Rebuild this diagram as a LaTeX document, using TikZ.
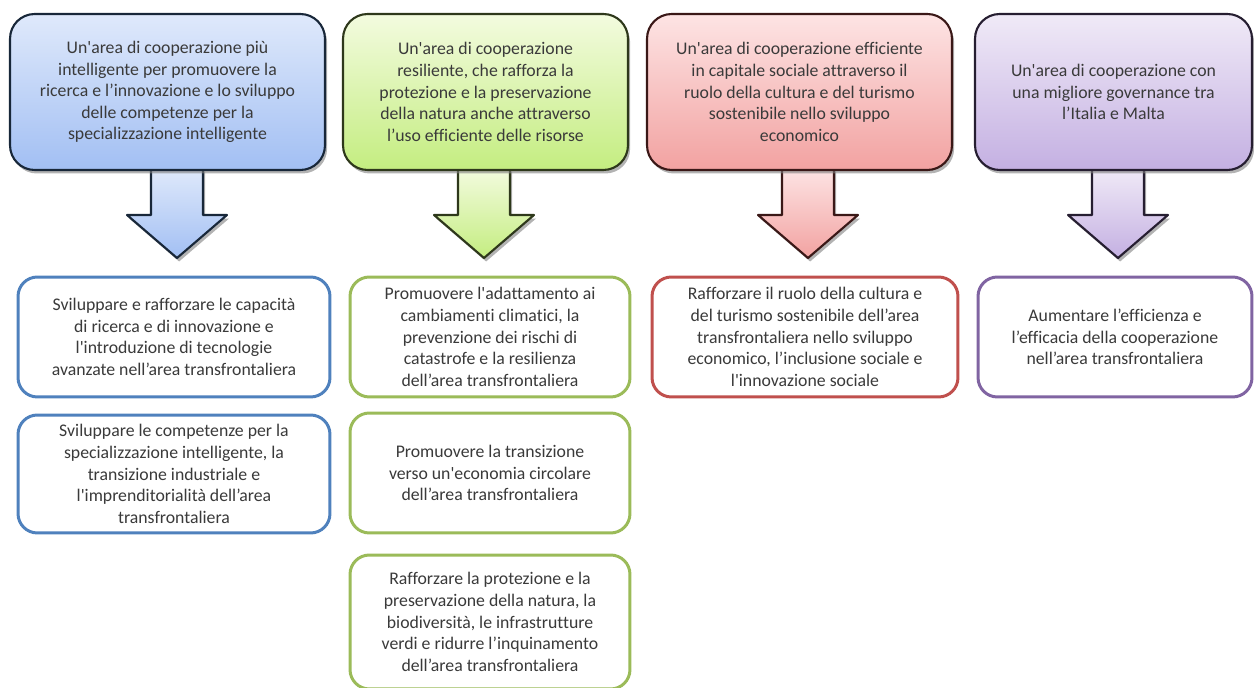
\documentclass[tikz,border=0pt]{standalone}
\usepackage{fontspec}
\setmainfont{Carlito}[Ligatures={TeXOff,NoCommon}]
\definecolor{areablue}{HTML}{4F81BD}
\definecolor{areagreen}{HTML}{9BBB59}
\definecolor{areared}{HTML}{C0504D}
\definecolor{areapurple}{HTML}{8064A2}
\definecolor{topblue}{HTML}{DFE9FB}
\definecolor{bottomblue}{HTML}{A2BFF3}
\definecolor{topgreen}{HTML}{F3FBDF}
\definecolor{bottomgreen}{HTML}{C4ED80}
\definecolor{topred}{HTML}{FDE4E4}
\definecolor{bottomred}{HTML}{F2A2A1}
\definecolor{toppurple}{HTML}{F0EAF7}
\definecolor{bottompurple}{HTML}{C4B0E2}
\definecolor{textgray}{HTML}{3A3A3A}
\usetikzlibrary{calc,shadows}
\tikzset{
    areagoal/.style={
        draw=#1!30!black,
        rounded corners=14pt,
        line width=1.2pt,
        minimum height=3.12cm,
        align=center,
        text=textgray,
        font=\fontsize{10.1}{12.3}\selectfont,
        drop shadow={shadow xshift=1.2pt, shadow yshift=-2pt, opacity=0.6}
    },
    areaobjective/.style={
        draw=#1,
        fill=white,
        rounded corners=11pt,
        line width=1.7pt,
        minimum height=2.4cm,
        align=center,
        text=textgray,
        font=\fontsize{10.1}{12.3}\selectfont
    },
    blockarrow/.style={
        draw=#1!30!black,
        line width=1.2pt,
        line join=round,
        drop shadow={shadow xshift=1.2pt, shadow yshift=-2pt, opacity=0.6}
    }
}

\begin{document}
\begin{tikzpicture}[x=0.02cm,y=-0.02cm]
    \useasboundingbox (0,0) rectangle (1254,688);

    % frecce verso gli obiettivi
    \foreach \ax/\c in {177/blue,484/green,808/red,1118/purple}{
        \coordinate (arrow\c) at (\ax,168);
        \draw[blockarrow=area\c, top color=top\c, bottom color=bottom\c]
            ($(arrow\c)+(-26,0)$) -- ++(0,47) -- ++(-24,0)
            -- ($(arrow\c)+(0,90)$) -- ($(arrow\c)+(50,47)$)
            -- ++(-24,0) -- ($(arrow\c)+(26,0)$) -- cycle;
    }

    % aree di cooperazione
    \node[areagoal=areablue, top color=topblue, bottom color=bottomblue,
          minimum width=6.3cm] (areaa) at (167.5,92)
        {Un'area di cooperazione più\\intelligente per promuovere la\\ricerca e l’innovazione e lo sviluppo\\delle competenze per la\\specializzazione intelligente};
    \node[areagoal=areagreen, top color=topgreen, bottom color=bottomgreen,
          minimum width=5.7cm] (areab) at (485.5,92)
        {Un'area di cooperazione\\resiliente, che rafforza la\\protezione e la preservazione\\della natura anche attraverso\\l’uso efficiente delle risorse};
    \node[areagoal=areared, top color=topred, bottom color=bottomred,
          minimum width=6.1cm] (areac) at (799.5,92)
        {Un'area di cooperazione efficiente\\in capitale sociale attraverso il\\ruolo della cultura e del turismo\\sostenibile nello sviluppo\\economico};
    \node[areagoal=areapurple, top color=toppurple, bottom color=bottompurple,
          minimum width=5.54cm] (aread) at (1113.5,92)
        {Un'area di cooperazione con\\una migliore governance tra\\l’Italia e Malta};

    % obiettivi specifici
    \node[areaobjective=areablue, minimum width=6.24cm] (objaa) at (174,337)
        {Sviluppare e rafforzare le capacità\\di ricerca e di innovazione e\\l'introduzione di tecnologie\\avanzate nell’area transfrontaliera};
    \node[areaobjective=areablue, minimum width=6.24cm, minimum height=2.36cm] (objab) at (174,474)
        {Sviluppare le competenze per la\\specializzazione intelligente, la\\transizione industriale e\\l'imprenditorialità dell’area\\transfrontaliera};
    \node[areaobjective=areagreen, minimum width=5.6cm] (objba) at (490,337)
        {Promuovere l'adattamento ai\\cambiamenti climatici, la\\prevenzione dei rischi di\\catastrofe e la resilienza\\dell’area transfrontaliera};
    \node[areaobjective=areagreen, minimum width=5.6cm] (objbb) at (490,473)
        {Promuovere la transizione\\verso un'economia circolare\\dell’area transfrontaliera};
    \node[areaobjective=areagreen, minimum width=5.6cm, minimum height=2.68cm] (objbc) at (490,622)
        {Rafforzare la protezione e la\\preservazione della natura, la\\biodiversità, le infrastrutture\\verdi e ridurre l’inquinamento\\dell’area transfrontaliera};
    \node[areaobjective=areared, minimum width=6.12cm] (objca) at (805,337)
        {Rafforzare il ruolo della cultura e\\del turismo sostenibile dell’area\\transfrontaliera nello sviluppo\\economico, l’inclusione sociale e\\l'innovazione sociale};
    \node[areaobjective=areapurple, minimum width=5.48cm] (objda) at (1115,337)
        {Aumentare l’efficienza e\\l’efficacia della cooperazione\\nell’area transfrontaliera};
\end{tikzpicture}
\end{document}
